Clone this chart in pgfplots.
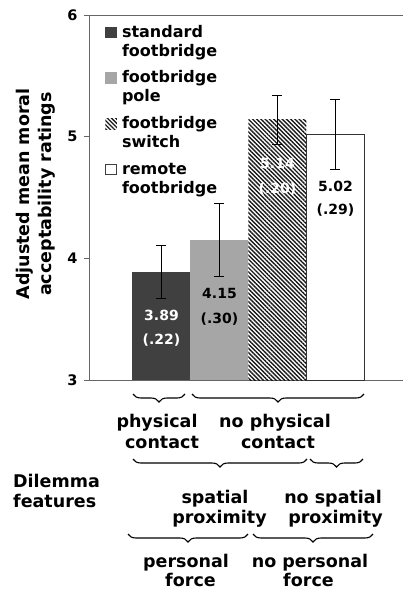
\documentclass[border=0pt]{standalone}
\usepackage{pgfplots}
\pgfplotsset{compat=1.18}
\usepackage{fontspec}
\setmainfont{DejaVu Sans}
\usetikzlibrary{patterns.meta,decorations.pathreplacing}
\definecolor{dark}{HTML}{404040}
\definecolor{light}{HTML}{A6A6A6}
\definecolor{axisgray}{HTML}{666666}
\newcommand{\fs}[2]{\fontsize{#1}{#2}\selectfont\bfseries}
\tikzset{hatch/.style={pattern={Lines[angle=-45,distance=3pt,line width=1.4pt]}, pattern color=black!90}}
\begin{document}
\begin{tikzpicture}
\begin{axis}[
  at={(89pt,-380pt)}, anchor=south west,
  width=314pt, height=365pt, scale only axis,
  xmin=-0.25, xmax=5.164, ymin=3, ymax=6,
  ytick={3,4,5,6}, xtick=\empty,
  axis x line=box, axis y line=left,
  axis line style={-, draw=axisgray, line width=0.9pt},
  tick align=outside, major tick length=5pt,
  tick style={axisgray, line width=0.9pt},
  /pgf/number format/assume math mode=true,
  yticklabel style={font=\fs{14.5}{17}, xshift=-3pt},
  ylabel={Adjusted mean moral\\acceptability ratings},
  every axis y label/.style={at={(axis description cs:-0.1688,0.5096)}, rotate=90, anchor=center, align=center, font=\fs{17.5}{22}},
  legend style={draw=none, fill=none, at={(axis description cs:0,1)}, anchor=north west,
    xshift=16.5pt, yshift=-8.7pt, inner sep=0pt, outer sep=0pt,
    row sep=31pt, column sep=5pt, nodes={inner sep=0pt, outer sep=0pt},
    font=\fs{16}{19}, cells={anchor=base west}},
  clip=false,
]
\addplot[legend image code/.code={\fill[dark] (0pt,-0.7pt) rectangle (11.5pt,10.5pt);},
  ybar, bar width=1, bar shift=0pt, fill=dark, draw=none,
  error bars/.cd, y dir=both, y explicit,
  error bar style={black, line width=0.8pt},
  error mark options={rotate=90, mark size=5pt, line width=0.8pt, black}]
  coordinates {(1,3.89) +- (0,0.22)};
\addlegendentry{\parbox[t]{4cm}{\strut standard\\footbridge\strut}}
\addplot[legend image code/.code={\fill[light] (0pt,-0.7pt) rectangle (11.5pt,10.5pt);},
  ybar, bar width=1, bar shift=0pt, fill=light, draw=none,
  error bars/.cd, y dir=both, y explicit,
  error bar style={black, line width=0.8pt},
  error mark options={rotate=90, mark size=5pt, line width=0.8pt, black}]
  coordinates {(2,4.15) +- (0,0.30)};
\addlegendentry{\parbox[t]{4cm}{\strut footbridge\\pole\strut}}
\addplot[legend image code/.code={\fill[hatch] (0pt,-0.7pt) rectangle (11.5pt,10.5pt);},
  ybar, bar width=1, bar shift=0pt, hatch, draw=none,
  error bars/.cd, y dir=both, y explicit,
  error bar style={black, line width=0.8pt},
  error mark options={rotate=90, mark size=5pt, line width=0.8pt, black}]
  coordinates {(3,5.14) +- (0,0.20)};
\addlegendentry{\parbox[t]{4cm}{\strut footbridge\\switch\strut}}
\addplot[legend image code/.code={\draw[fill=white, draw=black!75, line width=0.8pt] (0.4pt,-0.3pt) rectangle (11.1pt,10.1pt);},
  ybar, bar width=1, bar shift=0pt, fill=white, draw=black!80, line width=0.9pt,
  error bars/.cd, y dir=both, y explicit,
  error bar style={black, line width=0.8pt},
  error mark options={rotate=90, mark size=5pt, line width=0.8pt, black}]
  coordinates {(4,5.02) +- (0,0.29)};
\addlegendentry{\parbox[t]{4cm}{\strut remote\\footbridge\strut}}
% value labels
\node[anchor=base, white, font=\fs{14}{17}] at (axis cs:1,3.493) {3.89};
\node[anchor=base, white, font=\fs{14}{17}] at (axis cs:1,3.288) {(.22)};
\node[anchor=base, black, font=\fs{14}{17}] at (axis cs:2,3.674) {4.15};
\node[anchor=base, black, font=\fs{14}{17}] at (axis cs:2,3.468) {(.30)};
\node[anchor=base, white, font=\fs{14}{17}] at (axis cs:3,4.742) {5.14};
\node[anchor=base, white, font=\fs{14}{17}] at (axis cs:3,4.537) {(.20)};
\node[anchor=base, black, font=\fs{14}{17}] at (axis cs:4,4.553) {5.02};
\node[anchor=base, black, font=\fs{14}{17}] at (axis cs:4,4.364) {(.29)};
\end{axis}
% braces
\begin{scope}[line width=1.1pt, decoration={brace, mirror, amplitude=8pt}]
\draw[decorate] (133pt,-394pt) -- (185pt,-394pt);
\draw[decorate] (192pt,-394pt) -- (364pt,-394pt);
\draw[decorate] (133pt,-459pt) -- (307pt,-459pt);
\draw[decorate] (310pt,-459pt) -- (363pt,-459pt);
\draw[decorate] (128pt,-534pt) -- (248pt,-534pt);
\draw[decorate] (253pt,-534pt) -- (373pt,-534pt);
\end{scope}
\begin{scope}[every node/.style={anchor=base, inner sep=0pt, font=\fs{17.5}{21}}]
\node at (157pt,-427pt) {physical};
\node at (162pt,-448pt) {contact};
\node at (275pt,-427pt) {no physical};
\node at (278pt,-448pt) {contact};
\node[anchor=base west] at (13pt,-487pt) {Dilemma};
\node[anchor=base west] at (13pt,-507pt) {features};
\node at (215pt,-503pt) {spatial};
\node at (219.5pt,-523pt) {proximity};
\node at (333pt,-503pt) {no spatial};
\node at (335.5pt,-523pt) {proximity};
\node at (186pt,-567pt) {personal};
\node at (190.5pt,-586pt) {force};
\node at (310pt,-567pt) {no personal};
\node at (308.5pt,-586pt) {force};
\end{scope}
\pgfresetboundingbox
\path[use as bounding box] (0,0) rectangle (403pt,-592pt);
\end{tikzpicture}
\end{document}
